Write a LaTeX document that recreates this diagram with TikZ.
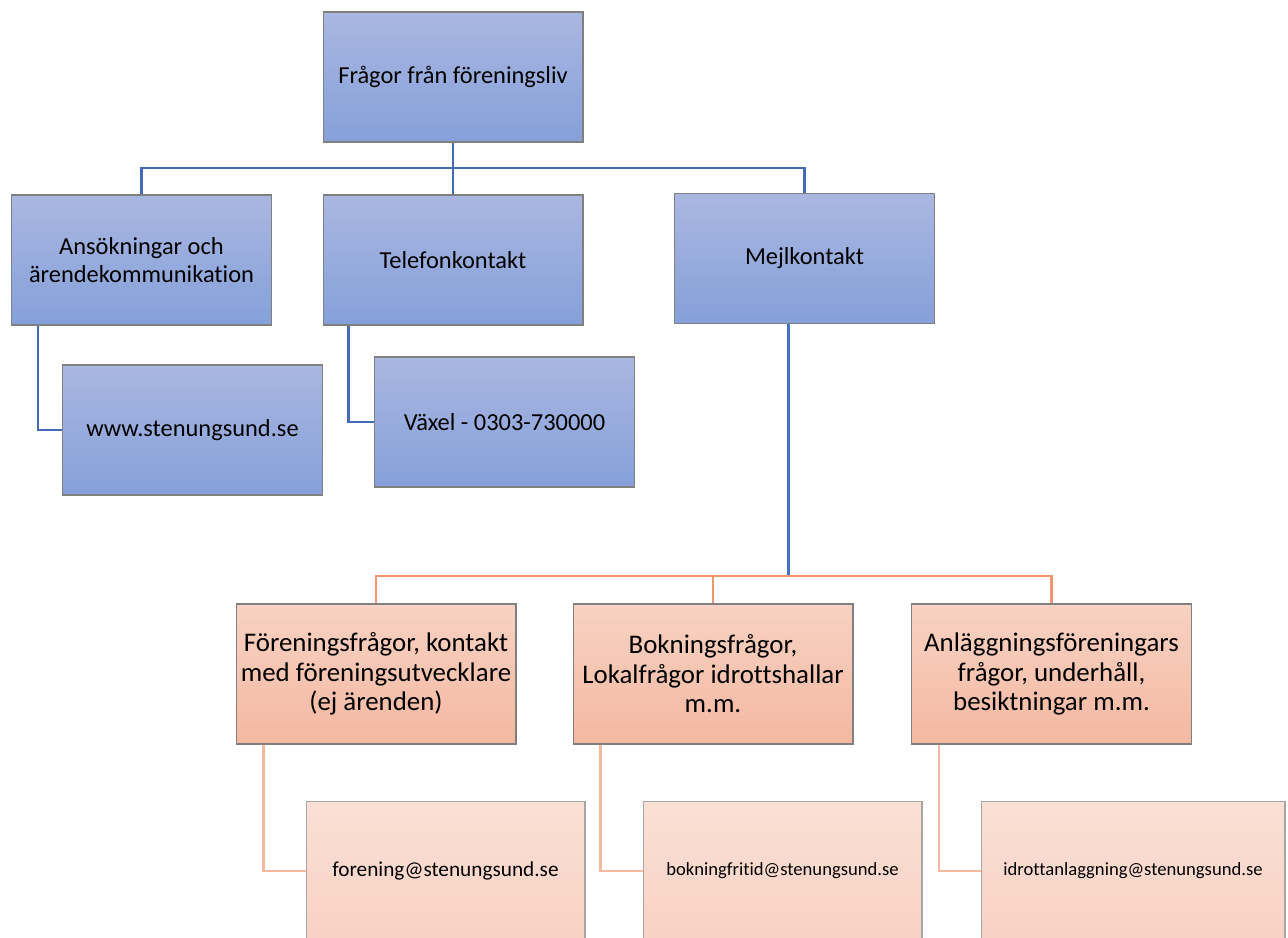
\documentclass[tikz,border=0pt]{standalone}
\usepackage{fontspec}
\setmainfont{Carlito}[Ligatures=NoCommon]
\usepackage{tikz}
\definecolor{boxtop}{RGB}{170,183,225}
\definecolor{boxbot}{RGB}{133,160,217}
\definecolor{peachtop}{RGB}{248,210,195}
\definecolor{peachbot}{RGB}{244,184,160}
\definecolor{paletop}{RGB}{250,224,213}
\definecolor{palebot}{RGB}{248,210,195}
\definecolor{bordergray}{RGB}{128,128,128}
\definecolor{linkblue}{RGB}{68,107,182}
\definecolor{mejlblue}{RGB}{68,114,196}
\definecolor{linkorange}{RGB}{242,150,110}
\definecolor{linkpeach}{RGB}{246,185,160}
\tikzstyle{bluebox} = [rectangle, 
minimum width=5.2cm, 
minimum height=2.6cm, 
align=center, 
draw=bordergray, line width=0.6pt,
top color=boxtop, bottom color=boxbot,
font=\fontsize{13.9}{15.5}\selectfont]
\tikzstyle{peachbox} = [rectangle, 
minimum width=5.6cm, 
minimum height=2.8cm, 
inner xsep=0.5pt,
align=center, 
draw=bordergray, line width=0.6pt,
top color=peachtop, bottom color=peachbot,
font=\fontsize{15.3}{16.8}\selectfont]
\tikzstyle{mailbox} = [rectangle, 
minimum width=5.58cm, 
minimum height=2.8cm, 
align=center, 
draw=bordergray!70, line width=0.6pt,
top color=paletop, bottom color=palebot,
font=\fontsize{10.6}{12}\selectfont]
\tikzstyle{blueline} = [draw=linkblue, line width=1.4pt]
\tikzstyle{mejlline} = [draw=mejlblue, line width=1.7pt]
\tikzstyle{orangeline} = [draw=linkorange, line width=1.2pt]
\tikzstyle{peachline} = [draw=linkpeach, line width=1.4pt]
\begin{document}
\begin{tikzpicture}[x=0.02cm, y=-0.02cm]
        \useasboundingbox (0,0) rectangle (1288,937);
        \clip (0,0) rectangle (1288,937);
        % blue part
        \node (fragor) [bluebox] at (453,77) {Frågor från föreningsliv};
        \node (ansok) [bluebox] at (141.5,260) {Ansökningar och\\ärendekommunikation};
        \node (telefon) [bluebox] at (453,260) {Telefonkontakt};
        \node (mejl) [bluebox] at (804.5,258.5) {Mejlkontakt};
        \node (www) [bluebox] at (192.5,430) {www.stenungsund.se};
        \node (vaxel) [bluebox] at (504.5,422) {Växel - 0303-730000};
        
        % orange part
        \node (forening) [peachbox] at (376,674) {Föreningsfrågor, kontakt\\med föreningsutvecklare\\(ej ärenden)};
        \node (bokning) [peachbox] at (713,674) {Bokningsfrågor,\\Lokalfrågor idrottshallar\\m.m.};
        \node (anlagg) [peachbox] at (1051.5,674) {Anläggningsföreningars\\frågor, underhåll,\\besiktningar m.m.};
        \node (foreningmail) [mailbox, font=\fontsize{12.1}{14}\selectfont] at (445.5,871) {forening@stenungsund.se};
        \node (bokningmail) [mailbox] at (782.5,871) {bokningfritid@stenungsund.se};
        \node (anlaggmail) [mailbox, minimum width=6.08cm] at (1133,871) {idrottanlaggning@stenungsund.se};
        
        \coordinate (bluebus) at (453,168);
        \coordinate (orangebus) at (713,576);
        
        \draw [blueline] (fragor.south) -- (bluebus);
        \draw [blueline] (ansok.north) |- (bluebus) -| (mejl.north);
        \draw [blueline] (bluebus) -- (telefon.north);
        \draw [blueline] ([xshift=0.54cm]ansok.south west) |- (www.west);
        \draw [blueline] ([xshift=0.52cm]telefon.south west) |- (vaxel.west);
        \draw [mejlline] ([xshift=-0.33cm]mejl.south) -- ([xshift=-0.33cm]mejl.south |- orangebus);
        
        \draw [orangeline] (forening.north) |- (orangebus) -| (anlagg.north);
        \draw [orangeline] (orangebus) -- (bokning.north);
        \draw [peachline] ([xshift=0.56cm]forening.south west) |- (foreningmail.west);
        \draw [peachline] ([xshift=0.56cm]bokning.south west) |- (bokningmail.west);
        \draw [peachline] ([xshift=0.56cm]anlagg.south west) |- (anlaggmail.west);
        
        \end{tikzpicture}
\end{document}
